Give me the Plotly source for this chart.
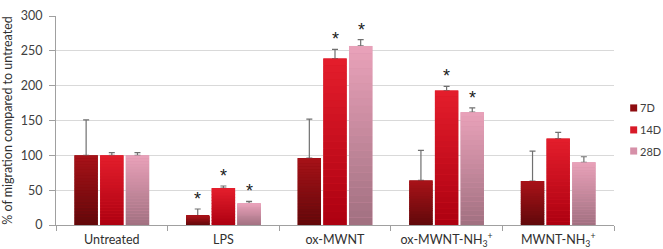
import plotly.graph_objects as go

categories = ["Untreated", "LPS", "ox-MWNT", "ox-MWNT-NH<sub>3</sub><sup>+</sup>", "MWNT-NH<sub>3</sub><sup>+</sup>"]
series = ["7D", "14D", "28D"]
values_7d = [100, 13, 96, 64, 63]
values_14d = [100, 53, 239, 193, 124]
values_28d = [100, 31, 257, 162, 90]
err_7d = [51, 10, 56, 43, 43]
err_14d = [4, 3, 13, 6, 9]
err_28d = [4, 3, 9, 6, 8]
signif_7d = [False, True, False, False, False]
signif_14d = [False, True, True, True, False]
signif_28d = [False, True, True, True, False]

values = [values_7d, values_14d, values_28d]
errors = [err_7d, err_14d, err_28d]
signifs = [signif_7d, signif_14d, signif_28d]
top_colors = [(168, 18, 24), (228, 30, 44), (234, 162, 186)]
bottom_colors = [(96, 8, 10), (172, 0, 16), (160, 112, 128)]
legend_colors = ["#8e0c10", "#d81a28", "#d690a8"]

def mix(c1, c2, t):
    return "rgb(%d,%d,%d)" % tuple(round(a + (b - a) * t) for a, b in zip(c1, c2))

fig = go.Figure()
N = 24
for i, name in enumerate(series):
    vals = values[i]
    fig.add_trace(go.Bar(
        x=categories, y=vals, name=name, offsetgroup=name,
        marker=dict(color=legend_colors[i], line=dict(width=0)),
        error_y=dict(type="data", array=errors[i], arrayminus=[0] * len(vals), symmetric=False,
                     color="#707070", thickness=1.2, width=3),
        showlegend=False,
    ))
    for k in range(N):
        fig.add_trace(go.Bar(
            x=categories, y=[v / N for v in vals], base=[v * k / N for v in vals],
            offsetgroup=name, showlegend=False, hoverinfo="skip",
            marker=dict(color=mix(bottom_colors[i], top_colors[i], (k + 0.5) / N), line=dict(width=0)),
        ))

annotations = []
for i, name in enumerate(series):
    for j, cat in enumerate(categories):
        if signifs[i][j]:
            annotations.append(dict(
                x=cat, y=values[i][j] + errors[i][j], xref="x", yref="y",
                text="*", showarrow=False, yanchor="bottom", yshift=-2,
                xshift=(i - 1) * 26,
                font=dict(size=18, color="#202020", family="Liberation Sans"),
            ))

# manual legend (small squares + labels)
legend_y = [0.56, 0.455, 0.354]
shapes = []
for i, name in enumerate(series):
    shapes.append(dict(type="rect", xref="paper", yref="paper",
                       x0=1.029, x1=1.0415, y0=legend_y[i] - 0.017, y1=legend_y[i] + 0.017,
                       fillcolor=legend_colors[i], line=dict(width=0)))
    annotations.append(dict(x=1.044, y=legend_y[i], xref="paper", yref="paper",
                            text=name, showarrow=False, xanchor="left", yanchor="middle",
                            borderpad=0, font=dict(size=11, color="#404040")))

fig.update_layout(
    width=663, height=249,
    margin=dict(l=56, r=49, t=16, b=24, autoexpand=False),
    paper_bgcolor="white", plot_bgcolor="white",
    barmode="group", bargap=0.31, bargroupgap=0.09,
    font=dict(family="Lato", size=12, color="#404040"),
    annotations=annotations, shapes=shapes,
    showlegend=False,
)
fig.update_xaxes(
    showline=True, linecolor="#a0a0a0", linewidth=1, automargin=False,
    ticks="outside", tickson="boundaries", ticklen=5, tickcolor="#a0a0a0",
    tickfont=dict(size=12.5, color="#303030"), showgrid=False, ticklabelstandoff=3,
)
fig.update_yaxes(
    range=[0, 300], dtick=50, showline=True, linecolor="#a0a0a0", linewidth=1, automargin=False,
    ticks="outside", ticklen=6, tickcolor="#a0a0a0",
    gridcolor="#d9d9d9", gridwidth=1, zeroline=False,
    tickfont=dict(size=12.5, color="#404040"), ticklabelstandoff=4,
    title=dict(text="% of migration compared to untreated", font=dict(size=12.5, color="#303030"), standoff=6),
)
fig.write_html("out.html", config={"displayModeBar": False},
               post_script="document.body.style.margin='0';")
